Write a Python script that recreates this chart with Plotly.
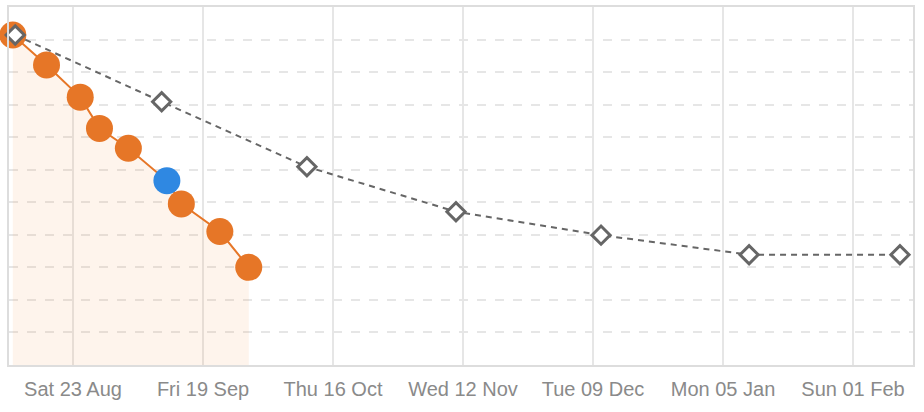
import plotly.graph_objects as go

# Actual (orange) series, incl. highlighted current point (blue)
actual_dates = ["2025-08-10 12:00", "2025-08-17 12:00", "2025-08-24 12:00", "2025-08-28 12:00",
                "2025-09-03 12:00", "2025-09-11 12:00", "2025-09-14 12:00", "2025-09-22 12:00",
                "2025-09-28 12:00"]
actual_values = [10.14, 9.22, 8.23, 7.27, 6.66, 5.66, 4.95, 4.10, 3.00]
highlight_index = 5

# Projected (grey dashed) series
plan_dates = ["2025-08-11 00:00", "2025-09-10 10:00", "2025-10-10 14:00", "2025-11-10 13:00",
              "2025-12-10 16:00", "2026-01-10 10:00", "2026-02-10 18:00"]
plan_values = [10.14, 8.09, 6.09, 4.71, 3.99, 3.39, 3.39]

tick_dates = ["2025-08-23", "2025-09-19", "2025-10-16", "2025-11-12",
              "2025-12-09", "2026-01-05", "2026-02-01"]
tick_labels = ["Sat 23 Aug", "Fri 19 Sep", "Thu 16 Oct", "Wed 12 Nov",
               "Tue 09 Dec", "Mon 05 Jan", "Sun 01 Feb"]

ORANGE = "#e67627"
BLUE = "#2f88e2"
GREY = "#666666"

marker_colors = [BLUE if i == highlight_index else ORANGE for i in range(len(actual_values))]

fig = go.Figure()
fig.add_trace(go.Scatter(
    x=actual_dates, y=actual_values, mode="lines+markers",
    line=dict(color=ORANGE, width=2),
    marker=dict(size=27, color=marker_colors, line=dict(width=0)),
    fill="tozeroy", fillcolor="rgba(240,130,40,0.09)",
    cliponaxis=False, showlegend=False, hoverinfo="skip",
))
fig.add_trace(go.Scatter(
    x=plan_dates, y=plan_values, mode="lines+markers",
    line=dict(color=GREY, width=2, dash="6px,5px"),
    marker=dict(symbol="diamond", size=14, color="white", line=dict(color=GREY, width=3)),
    cliponaxis=False, showlegend=False, hoverinfo="skip",
))

fig.update_layout(
    width=924, height=412,
    margin=dict(l=9, r=11, t=7, b=47, autoexpand=False),
    paper_bgcolor="white", plot_bgcolor="white",
    font=dict(family="Liberation Sans, Arial, sans-serif", size=20, color="#888888"),
)
fig.update_xaxes(
    type="date", automargin=False,
    range=["2025-08-09 17:00", "2026-02-13 11:00"],
    tickvals=tick_dates, ticktext=tick_labels,
    showgrid=True, gridcolor="#e6e6e6", gridwidth=2,
    showline=True, linecolor="#dddddd", linewidth=2, mirror=True,
    ticks="", zeroline=False, ticklabelstandoff=5,
    tickfont=dict(size=20, color="#8a8a8a"),
)
fig.update_yaxes(
    range=[0, 11], dtick=1, tick0=0, automargin=False,
    showgrid=True, gridcolor="#e6e6e6", gridwidth=2, griddash="dash",
    showline=True, linecolor="#dddddd", linewidth=2, mirror=True,
    showticklabels=False, ticks="", zeroline=False,
)

fig.write_html("out.html", config={"displayModeBar": False},
               post_script="document.body.style.margin='0';document.body.style.overflow='hidden';")
